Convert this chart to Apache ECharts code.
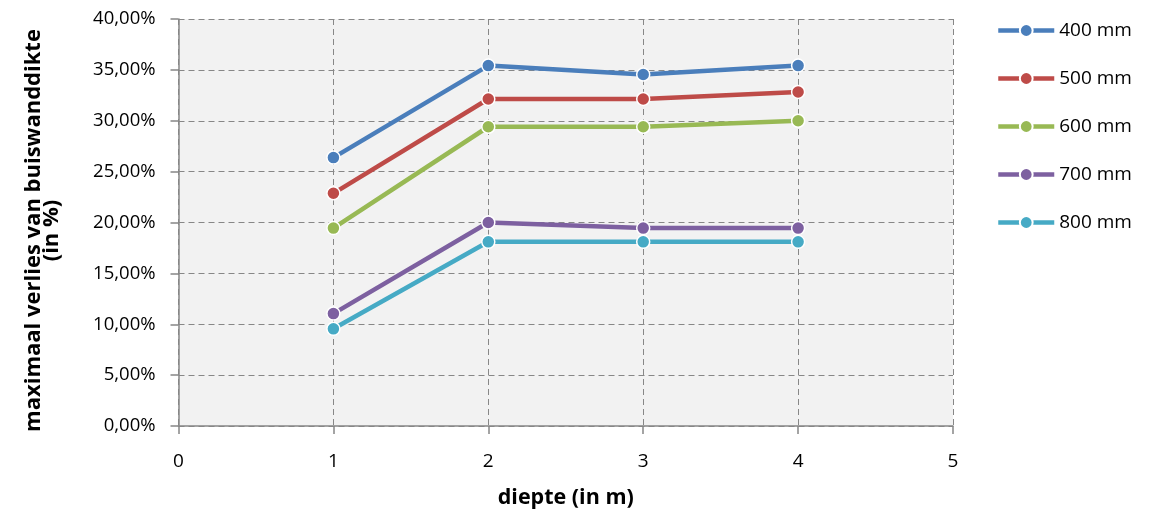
<!DOCTYPE html>
<html>
<head>
<meta charset="utf-8">
<script src="https://cdn.jsdelivr.net/npm/echarts@6/dist/echarts.min.js"></script>
<style>
  html, body { margin: 0; padding: 0; background: #ffffff; }
  #chart { width: 1153px; height: 514px; }
</style>
</head>
<body>
<div id="chart"></div>
<script>
// Depth of the pipe (m)
const depths = [1, 2, 3, 4];
// Diameter classes shown in the legend
const diameters = ['400 mm', '500 mm', '600 mm', '700 mm', '800 mm'];
// Maximum loss of wall thickness per diameter (fraction)
const loss400 = [0.2638, 0.3542, 0.3454, 0.3542];
const loss500 = [0.2287, 0.3214, 0.3214, 0.3283];
const loss600 = [0.1945, 0.2941, 0.2941, 0.3000];
const loss700 = [0.1105, 0.2000, 0.1945, 0.1945];
const loss800 = [0.0955, 0.1810, 0.1810, 0.1810];

const seriesValues = [loss400, loss500, loss600, loss700, loss800];
const colors = ['#4A7EBB', '#BE4B48', '#98B954', '#7D60A0', '#46AAC5'];

const font = '"Open Sans", Lato, sans-serif';
const gridColor = '#878787';

const chart = echarts.init(document.getElementById('chart'), null, { renderer: 'canvas' });

chart.setOption({
  animation: false,
  color: colors,
  textStyle: { fontFamily: font },
  grid: {
    left: 178.5, right: 200, top: 19, bottom: 88,
    outerBoundsMode: 'none',
    containLabel: false,
    show: true, backgroundColor: '#F2F2F2', borderWidth: 0
  },
  legend: {
    orient: 'vertical',
    left: 991, top: 16,
    itemWidth: 56, itemHeight: 16, itemGap: 29,
    lineStyle: { width: 4.5 },
    textStyle: { fontFamily: font, fontSize: 19, color: '#000' },
    data: diameters
  },
  xAxis: {
    type: 'value',
    min: 0, max: 5, interval: 1,
    name: 'diepte (in m)',
    nameLocation: 'middle',
    nameGap: 61,
    nameTextStyle: { fontFamily: font, fontSize: 21.5, fontWeight: 'bold', color: '#000' },
    axisLine: { show: true, onZero: false, lineStyle: { color: gridColor, width: 1.5 } },
    axisTick: { show: true, length: 8, lineStyle: { color: gridColor, width: 1.5 } },
    axisLabel: { fontFamily: font, fontSize: 19, color: '#000', margin: 26 },
    splitLine: { show: true, lineStyle: { color: gridColor, type: [6, 4], width: 1 } }
  },
  yAxis: {
    type: 'value',
    min: 0, max: 0.4, interval: 0.05,
    name: 'maximaal verlies van buiswanddikte\n(in %)',
    nameLocation: 'middle',
    nameGap: 118,
    nameTextStyle: {
      fontFamily: font, fontSize: 22, fontWeight: 'bold', color: '#000',
      lineHeight: 18, padding: [0, 16, 0, 0]
    },
    axisLine: { show: true, onZero: false, lineStyle: { color: gridColor, width: 1.5 } },
    axisTick: { show: true, length: 8, lineStyle: { color: gridColor, width: 1.5 } },
    axisLabel: {
      fontFamily: font, fontSize: 18.5, color: '#000', margin: 23,
      formatter: v => (v * 100).toFixed(2).replace('.', ',') + '%'
    },
    splitLine: { show: true, lineStyle: { color: gridColor, type: [6, 4], width: 1 } }
  },
  series: diameters.map((name, i) => ({
    name: name,
    type: 'line',
    data: depths.map((d, j) => [d, seriesValues[i][j]]),
    symbol: 'circle',
    symbolSize: 13,
    lineStyle: { width: 4.5, color: colors[i] },
    itemStyle: { color: colors[i], borderColor: '#FFFFFF', borderWidth: 1.5 },
    emphasis: { disabled: true }
  }))
});
</script>
</body>
</html>
